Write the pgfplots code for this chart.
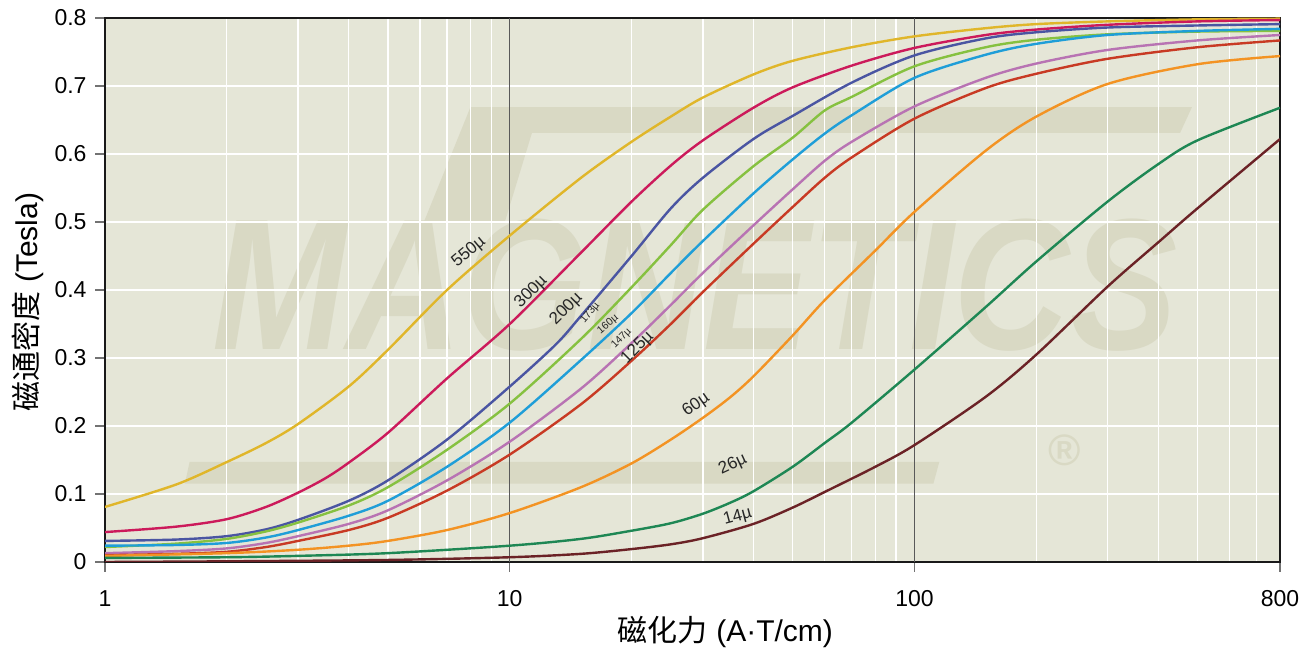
\documentclass[border=0pt]{standalone}
\usepackage{fontspec}
\setmainfont{Liberation Sans}
\newfontfamily\cjk{Noto Sans CJK SC}
\usepackage{pgfplots}
\pgfplotsset{compat=1.18}
\definecolor{bgc}{HTML}{E5E6D7}
\definecolor{wm}{HTML}{D9D9C4}
\definecolor{cA}{HTML}{E0B62A}
\definecolor{cB}{HTML}{CC1A5B}
\definecolor{cC}{HTML}{4A55A2}
\definecolor{cD}{HTML}{86C140}
\definecolor{cE}{HTML}{1F9ED8}
\definecolor{cF}{HTML}{B873B3}
\definecolor{cG}{HTML}{C83A24}
\definecolor{cH}{HTML}{F39323}
\definecolor{cI}{HTML}{1E8754}
\definecolor{cJ}{HTML}{6B2226}
\begin{document}
\begin{tikzpicture}
\begin{axis}[set layers,
  xmode=log, scale only axis, width=1175pt, height=544pt,
  xmin=1, xmax=800, ymin=0, ymax=0.8,
  axis background/.style={fill=bgc},
  xtick={1,10,100,800}, xticklabels={1,10,100,800},
  minor xtick={2,3,4,5,6,7,8,9,20,30,40,50,60,70,80,90,200,300,400,500,600,700},
  ytick={0,0.1,0.2,0.3,0.4,0.5,0.6,0.7,0.8},
  yticklabels={0,0.1,0.2,0.3,0.4,0.5,0.6,0.7,0.8},
  xtick pos=bottom, ytick pos=left, tick align=outside,
  major tick length=10pt, minor tick length=0pt,
  tick style={black!55, line width=1.2pt},
  xminorgrids, ymajorgrids,
  minor grid style={white, line width=1.3pt},
  major grid style={white, line width=1.3pt},
  axis line style={black!90, line width=2.6pt},
  ticklabel style={font=\fontsize{23}{23}\selectfont},
  xticklabel style={yshift=-15pt},
  yticklabel style={xshift=-5pt},
  /pgf/number format/assume math mode=true,
  label style={font=\fontsize{30}{30}\selectfont},
  xlabel={{\cjk 磁化力} (A·T/cm)},
  ylabel={{\cjk 磁通密度} (Tesla)},
  xlabel style={at={(axis description cs:0.528,-0.129)}, anchor=center},
  ylabel style={at={(axis description cs:-0.0655,0.478)}, anchor=center},
]
\begin{pgfonlayer}{axis background}
\fill[wm] (rel axis cs:0.311,0.836) -- (rel axis cs:0.925,0.836) -- (rel axis cs:0.915,0.789) -- (rel axis cs:0.305,0.789) -- cycle;
\fill[wm] (rel axis cs:0.311,0.836) -- (rel axis cs:0.370,0.836) -- (rel axis cs:0.340,0.623) -- (rel axis cs:0.271,0.623) -- cycle;
\fill[wm] (rel axis cs:0.072,0.184) -- (rel axis cs:0.710,0.184) -- (rel axis cs:0.705,0.144) -- (rel axis cs:0.068,0.144) -- cycle;
\node[text=wm, font=\fontsize{187}{187}\selectfont\bfseries\itshape, xscale=0.86] at (rel axis cs:0.502,0.509) {MAGNETICS};
\node[text=wm, font=\fontsize{44}{44}\selectfont\bfseries] at (rel axis cs:0.817,0.206) {®};
\end{pgfonlayer}
\draw[black!65, line width=1.4pt] (axis cs:10,0) -- (axis cs:10,0.8);
\draw[black!65, line width=1.4pt] (axis cs:100,0) -- (axis cs:100,0.8);
% 550
\addplot[cA, line width=2.4pt, smooth] coordinates {(1,0.081)(1.5,0.114)(2,0.147)(2.5,0.175)(3,0.203)(4,0.258)(5,0.312)(7,0.400)(10,0.480)(15,0.565)(20,0.618)(25,0.655)(30,0.683)(40,0.717)(50,0.737)(70,0.757)(100,0.773)(150,0.785)(200,0.791)(300,0.795)(500,0.798)(800,0.799)};
% 300
\addplot[cB, line width=2.4pt, smooth] coordinates {(1,0.044)(1.5,0.052)(2,0.063)(2.5,0.081)(3,0.102)(3.5,0.123)(4,0.146)(5,0.190)(7,0.270)(10,0.350)(15,0.455)(20,0.530)(25,0.583)(30,0.620)(40,0.668)(50,0.698)(70,0.730)(100,0.756)(150,0.775)(200,0.783)(300,0.790)(500,0.795)(800,0.797)};
% 200
\addplot[cC, line width=2.4pt, smooth] coordinates {(1,0.031)(1.5,0.033)(2,0.038)(2.5,0.048)(3,0.062)(4,0.090)(5,0.120)(7,0.180)(10,0.258)(13,0.320)(15,0.362)(20,0.450)(25,0.520)(30,0.565)(40,0.622)(50,0.656)(70,0.705)(100,0.745)(150,0.770)(200,0.779)(300,0.786)(500,0.789)(800,0.791)};
% 173
\addplot[cD, line width=2.4pt, smooth] coordinates {(1,0.022)(1.5,0.027)(2,0.034)(2.5,0.045)(3,0.058)(4,0.083)(5,0.110)(7,0.165)(10,0.233)(15,0.328)(20,0.404)(25,0.466)(30,0.518)(40,0.582)(50,0.624)(60,0.664)(70,0.684)(100,0.729)(150,0.757)(200,0.768)(300,0.776)(500,0.780)(800,0.781)};
% 160
\addplot[cE, line width=2.4pt, smooth] coordinates {(1,0.024)(1.5,0.025)(2,0.028)(2.5,0.036)(3,0.047)(4,0.068)(5,0.090)(7,0.140)(10,0.205)(15,0.297)(20,0.366)(25,0.425)(30,0.472)(40,0.542)(50,0.592)(60,0.630)(70,0.657)(100,0.712)(150,0.746)(200,0.762)(300,0.775)(500,0.781)(800,0.784)};
% 147
\addplot[cF, line width=2.4pt, smooth] coordinates {(1,0.013)(1.5,0.016)(2,0.020)(2.5,0.028)(3,0.038)(4,0.056)(5,0.076)(7,0.120)(10,0.177)(15,0.255)(20,0.322)(25,0.378)(30,0.425)(40,0.495)(50,0.548)(60,0.590)(70,0.618)(100,0.670)(150,0.712)(200,0.733)(300,0.753)(500,0.767)(800,0.775)};
% 125
\addplot[cG, line width=2.4pt, smooth] coordinates {(1,0.010)(1.5,0.012)(2,0.015)(2.5,0.022)(3,0.031)(4,0.047)(5,0.065)(7,0.105)(10,0.158)(15,0.232)(20,0.296)(25,0.350)(30,0.397)(40,0.468)(50,0.522)(60,0.565)(70,0.595)(100,0.652)(150,0.697)(200,0.718)(300,0.740)(500,0.757)(800,0.767)};
% 60
\addplot[cH, line width=2.4pt, smooth] coordinates {(1,0.009)(2,0.013)(3,0.018)(4,0.024)(5,0.031)(7,0.047)(10,0.072)(15,0.110)(20,0.145)(25,0.180)(30,0.212)(35,0.242)(40,0.273)(50,0.333)(60,0.385)(80,0.458)(100,0.515)(150,0.605)(200,0.655)(300,0.703)(500,0.732)(800,0.744)};
% 26
\addplot[cI, line width=2.4pt, smooth] coordinates {(1,0.006)(2,0.007)(3,0.009)(5,0.013)(10,0.024)(15,0.034)(20,0.046)(25,0.057)(30,0.071)(35,0.087)(40,0.104)(50,0.140)(60,0.175)(70,0.205)(100,0.283)(150,0.375)(200,0.442)(300,0.530)(400,0.585)(500,0.620)(800,0.668)};
% 14
\addplot[cJ, line width=2.4pt, smooth] coordinates {(1,0.0)(2,0.001)(5,0.003)(10,0.007)(15,0.012)(20,0.019)(25,0.026)(30,0.035)(40,0.056)(50,0.080)(60,0.103)(80,0.140)(100,0.172)(150,0.243)(200,0.305)(300,0.405)(400,0.470)(500,0.520)(800,0.622)};
\node[rotate=40, font=\fontsize{17}{17}\selectfont, text=black!85] at (axis cs:7.93,0.456) {550µ};
\node[rotate=45, font=\fontsize{17}{17}\selectfont, text=black!85] at (axis cs:11.3,0.397) {300µ};
\node[rotate=45, font=\fontsize{17}{17}\selectfont, text=black!85] at (axis cs:13.8,0.372) {200µ};
\node[rotate=50, font=\fontsize{10.5}{10.5}\selectfont, text=black!85] at (axis cs:15.8,0.366) {173µ};
\node[rotate=40, font=\fontsize{10.5}{10.5}\selectfont, text=black!85] at (axis cs:17.5,0.349) {160µ};
\node[rotate=45, font=\fontsize{10.5}{10.5}\selectfont, text=black!85] at (axis cs:18.9,0.329) {147µ};
\node[rotate=45, font=\fontsize{17}{17}\selectfont, text=black!85] at (axis cs:20.7,0.315) {125µ};
\node[rotate=35, font=\fontsize{17}{17}\selectfont, text=black!85] at (axis cs:28.9,0.231) {60µ};
\node[rotate=25, font=\fontsize{17}{17}\selectfont, text=black!85] at (axis cs:35.6,0.143) {26µ};
\node[rotate=15, font=\fontsize{17}{17}\selectfont, text=black!85] at (axis cs:36.6,0.066) {14µ};
\end{axis}
\pgfresetboundingbox
\path[use as bounding box] (-105pt,-88pt) rectangle (1204pt,562pt);
\end{tikzpicture}
\end{document}
